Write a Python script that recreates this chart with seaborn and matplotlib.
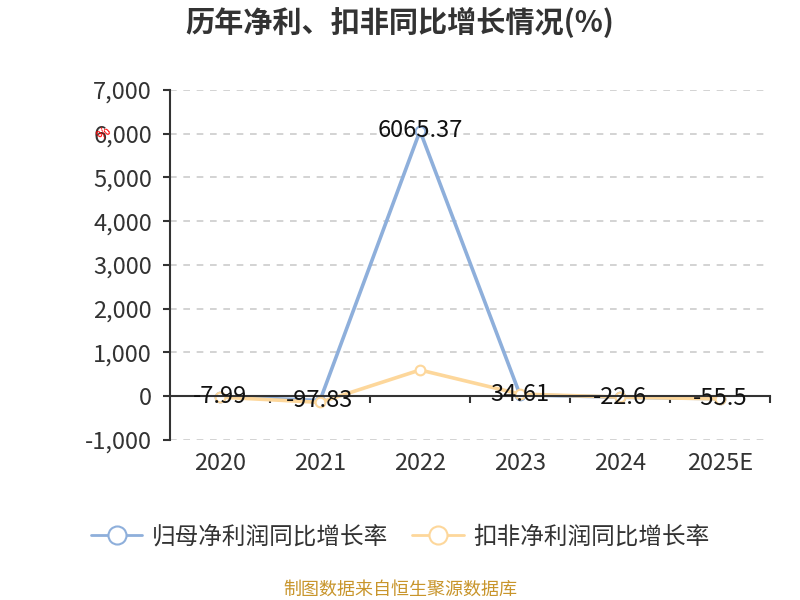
import matplotlib
matplotlib.use("Agg")
import matplotlib.pyplot as plt
import seaborn as sns
import pandas as pd
from matplotlib.lines import Line2D

years = ["2020", "2021", "2022", "2023", "2024", "2025E"]
net_profit_growth = [-7.99, -97.83, 6065.37, 34.61, -22.6, -55.5]
deducted_growth = [-20, -140, 600, 50, -20, -60]
series_names = ["归母净利润同比增长率", "扣非净利润同比增长率"]
yticks = [-1000, 0, 1000, 2000, 3000, 4000, 5000, 6000, 7000]
colors = ["#8eafdb", "#fdd79b"]

sns.set_theme(style="white")
plt.rcParams['font.family'] = ['Noto Sans CJK SC', 'DejaVu Sans']

df = pd.DataFrame({
    "year": years * 2,
    "x": list(range(len(years))) * 2,
    "value": net_profit_growth + deducted_growth,
    "series": [series_names[0]] * len(years) + [series_names[1]] * len(years),
})

fig = plt.figure(figsize=(8, 6), dpi=100)
ax = fig.add_axes([0.2125, 0.2667, 0.75, 0.5833])

sns.lineplot(data=df, x="x", y="value", hue="series", hue_order=series_names,
             palette=colors, marker="o", markersize=7, markerfacecolor="white",
             markeredgewidth=1.5, linewidth=2.6, legend=False, ax=ax, sort=False)
for line in ax.lines:
    line.set_markeredgecolor(line.get_color())

for i, v in enumerate(net_profit_growth):
    ax.text(i, v, f"{v:g}" if v != 6065.37 else "6065.37", ha="center", va="center",
            fontsize=17, color="#111111", zorder=10)

ax.set_xlim(-0.5, len(years) - 0.5)
ax.set_ylim(-1000, 7000)
ax.set_yticks(yticks)
ax.set_yticklabels([f"{t:,}" for t in yticks])
for t in yticks:
    if t != 0:
        ax.axhline(t, color="#cccccc", linestyle=(0, (4, 4)), linewidth=1.2, zorder=0)

ax.spines["top"].set_visible(False)
ax.spines["right"].set_visible(False)
ax.spines["left"].set_color("#333333")
ax.spines["left"].set_linewidth(1.5)
ax.spines["bottom"].set_position(("data", 0))
ax.spines["bottom"].set_color("#333333")
ax.spines["bottom"].set_linewidth(1.5)

ax.set_xticks(range(len(years)))
ax.set_xticklabels(years)
ax.set_xticks([i + 0.5 for i in range(len(years))], minor=True)
ax.tick_params(axis="x", which="major", length=0, pad=40, labelsize=17, labelcolor="#333333")
ax.tick_params(axis="x", which="minor", length=5, width=1.5, color="#333333", direction="out", bottom=True)
ax.tick_params(axis="y", which="major", length=5, width=1.5, color="#333333", direction="out",
               left=True, pad=8, labelsize=17, labelcolor="#333333")
ax.set_xlabel("")
ax.set_ylabel("")

fig.text(0.5, 0.962, "历年净利、扣非同比增长情况(%)", ha="center", va="center",
         fontsize=21, fontweight="bold", color="#333333")

handles = [Line2D([0], [0], color=c, linewidth=2, marker="o", markersize=13,
                  markerfacecolor="white", markeredgewidth=1.5) for c in colors]
fig.legend(handles, series_names, loc="center", bbox_to_anchor=(0.5, 0.105), ncol=2,
           frameon=False, fontsize=17, handlelength=2.2, columnspacing=1.0,
           handletextpad=0.4, labelcolor="#333333")

fig.text(0.5, 0.018, "制图数据来自恒生聚源数据库", ha="center", va="center",
         fontsize=13, color="#c8952b")
fig.text(0.13, 0.778, "%", ha="center", va="center", fontsize=10, color="red", rotation=45)

fig.savefig("out.png", dpi=100)
